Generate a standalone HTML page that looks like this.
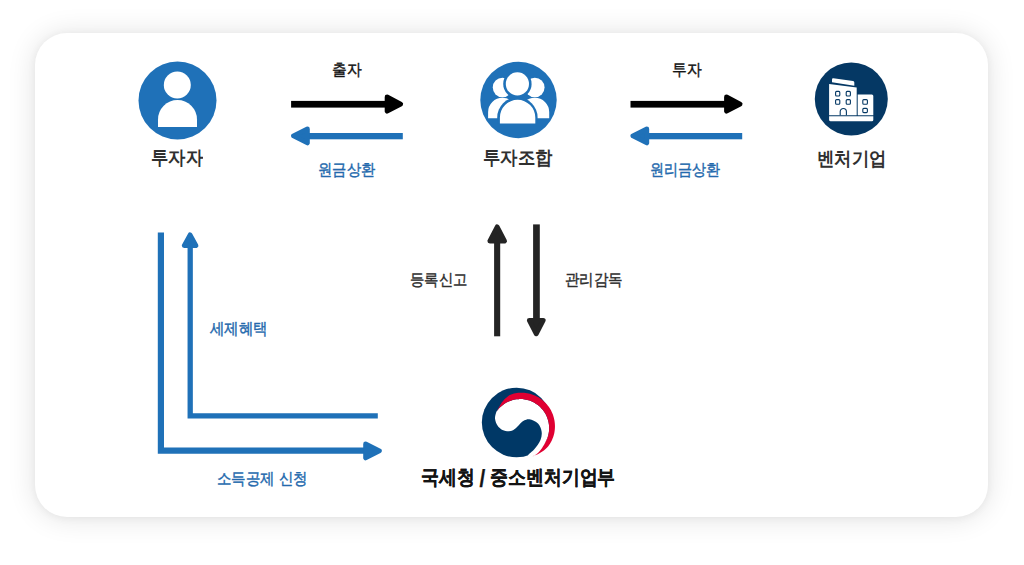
<!DOCTYPE html>
<html><head><meta charset="utf-8">
<style>
html,body{margin:0;padding:0;background:#fff;}
body{width:1024px;height:565px;position:relative;overflow:hidden;font-family:"Liberation Sans",sans-serif;}
.card{position:absolute;left:35px;top:33px;width:953px;height:484px;border-radius:32px;background:#fff;box-shadow:0 1px 28px 1px rgba(0,0,0,0.11),0 1px 9px rgba(0,0,0,0.05);}
svg{position:absolute;left:0;top:0;}
.t{position:absolute;white-space:nowrap;line-height:1;transform-origin:0 0;}
.b{font-weight:700;color:#303030;}
.k{font-weight:700;color:#141414;-webkit-text-stroke:0.25px #141414;}
.sl{display:inline-block;font-size:23px;vertical-align:-3px;line-height:1;}
.m{font-weight:400;color:#141414;-webkit-text-stroke:0.42px #141414;}
.g{font-weight:400;color:#2e2e2e;-webkit-text-stroke:0.42px #2e2e2e;}
.bl{font-weight:400;color:#2369ad;-webkit-text-stroke:0.42px #2369ad;}
</style></head>
<body>
<div class="card"></div>
<svg width="1024" height="565" viewBox="0 0 1024 565">
<circle cx="177.5" cy="100.5" r="39" fill="#1f71b8"/>
<circle cx="177.3" cy="85" r="13.5" fill="#fff"/>
<path d="M158 127 V119.5 A19.5 19.5 0 0 1 197 119.5 V127 Z" fill="#fff"/>
<circle cx="518.5" cy="100" r="38.2" fill="#1f71b8"/>
<circle cx="502.5" cy="87.5" r="9.75" fill="#fff"/>
<circle cx="534.8" cy="87.5" r="9.75" fill="#fff"/>
<path d="M488.1 118.3 V112.1 A14.4 14.4 0 0 1 516.9 112.1 V118.3 Z" fill="#fff"/>
<path d="M520.4 118.3 V112.1 A14.4 14.4 0 0 1 549.2 112.1 V118.3 Z" fill="#fff"/>
<circle cx="517.4" cy="83.9" r="14.2" fill="#1f71b8"/>
<path d="M497.2 123.4 V117.5 A20.2 20.2 0 0 1 537.6 117.5 V123.4 Z" fill="#1f71b8"/>
<circle cx="517.4" cy="83.9" r="11.6" fill="#fff"/>
<path d="M499.9 123.4 V117.5 A17.7 17.7 0 0 1 535.3 117.5 V123.4 Z" fill="#fff"/>
<circle cx="851.3" cy="99" r="36.5" fill="#053864"/>
<g fill="#fff">
<path d="M833.4 78.2 L853 81 Q854.3 81.2 854.3 82.4 L854.3 85.8 L832 82.2 L832 79.5 Q832 78 833.4 78.2 Z"/>
<path d="M829.1 84 L856.7 87.6 L856.7 115.2 L829.1 115.2 Z"/>
<path d="M857.7 94.5 L871.8 94.5 Q873.3 94.5 873.3 96 L873.3 115.2 L857.7 115.2 Z"/>
<path d="M829.1 116.2 L873.3 116.2 L873.3 119.7 Q873.3 121.2 871.8 121.2 L830.6 121.2 Q829.1 121.2 829.1 119.7 Z"/>
</g>
<g fill="none" stroke="#053864" stroke-width="1.1">
<rect x="835.6" y="91.4" width="4.2" height="4.6" rx="1"/>
<rect x="846.2" y="91.4" width="4.2" height="4.6" rx="1"/>
<rect x="835.6" y="99.6" width="4.2" height="4.6" rx="1"/>
<rect x="846.2" y="99.6" width="4.2" height="4.6" rx="1"/>
<rect x="862.8" y="99.6" width="4.6" height="4.6" rx="1"/>
<rect x="862.8" y="108.4" width="4.6" height="4.2" rx="1"/>
<path d="M840.2 115.2 V111.6 A3.1 3.1 0 0 1 846.4 111.6 V115.2"/>
</g>
<rect x="291.10" y="100.9" width="95.00" height="6.7" fill="#000"/>
<path d="M387.10 96.90 L400.70 104.05 L387.10 111.20 Z" fill="#000" stroke="#000" stroke-width="4.8" stroke-linejoin="round"/>
<rect x="306.00" y="133" width="96.80" height="6.3" fill="#1f71b8"/>
<path d="M307.40 129.00 L293.50 135.95 L307.40 142.90 Z" fill="#1f71b8" stroke="#1f71b8" stroke-width="4.8" stroke-linejoin="round"/>
<rect x="630.50" y="100.9" width="95.00" height="6.7" fill="#000"/>
<path d="M726.50 96.90 L740.10 104.05 L726.50 111.20 Z" fill="#000" stroke="#000" stroke-width="4.8" stroke-linejoin="round"/>
<rect x="645.40" y="133" width="96.80" height="6.3" fill="#1f71b8"/>
<path d="M646.80 129.00 L632.90 135.95 L646.80 142.90 Z" fill="#1f71b8" stroke="#1f71b8" stroke-width="4.8" stroke-linejoin="round"/>
<rect x="494.1" y="240" width="6.1" height="96.3" fill="#242424"/>
<path d="M489.80 241.10 L497.20 226.80 L504.60 241.10 Z" fill="#242424" stroke="#242424" stroke-width="4.8" stroke-linejoin="round"/>
<rect x="533.1" y="224.4" width="6.7" height="96" fill="#242424"/>
<path d="M529.30 320.30 L536.25 333.85 L543.20 320.30 Z" fill="#242424" stroke="#242424" stroke-width="4.8" stroke-linejoin="round"/>
<path d="M160.9 232.6 V450.6 H366" fill="none" stroke="#1f71b8" stroke-width="6.2"/>
<path d="M365.60 444.00 L379.40 450.95 L365.60 457.90 Z" fill="#1f71b8" stroke="#1f71b8" stroke-width="4.8" stroke-linejoin="round"/>
<path d="M190.2 246 V415.9 H377.8" fill="none" stroke="#1f71b8" stroke-width="5.3"/>
<path d="M184.20 245.60 L190.10 234.80 L196.00 245.60 Z" fill="#1f71b8" stroke="#1f71b8" stroke-width="4.8" stroke-linejoin="round"/>
<circle cx="516.63" cy="422.5" r="34.8" fill="#003866"/>
<path fill="#fff" d="M496.3 411.9 C496.54 411.57 497.24 410.58 497.74 409.95 C498.25 409.32 498.78 408.71 499.34 408.12 C499.89 407.53 500.47 406.97 501.08 406.43 C501.68 405.89 502.31 405.37 502.95 404.88 C503.60 404.39 504.26 403.93 504.95 403.50 C505.63 403.06 506.34 402.66 507.06 402.29 C507.78 401.91 508.52 401.57 509.27 401.26 C510.02 400.95 510.78 400.66 511.56 400.42 C512.33 400.17 513.12 399.96 513.91 399.78 C514.70 399.61 515.50 399.47 516.31 399.36 C517.11 399.25 517.93 399.17 518.74 399.13 C519.55 399.10 520.36 399.09 521.18 399.12 C521.99 399.15 522.80 399.21 523.61 399.31 C524.41 399.40 525.22 399.53 526.01 399.70 C526.81 399.86 527.60 400.06 528.38 400.29 C529.16 400.52 529.93 400.78 530.69 401.08 C531.44 401.37 532.19 401.70 532.92 402.06 C533.65 402.42 534.37 402.81 535.06 403.22 C535.76 403.64 536.44 404.09 537.10 404.56 C537.76 405.04 538.40 405.54 539.02 406.07 C539.63 406.60 540.23 407.16 540.80 407.73 C541.37 408.31 541.92 408.92 542.44 409.54 C542.96 410.16 543.45 410.81 543.92 411.48 C544.38 412.14 544.82 412.83 545.23 413.53 C545.64 414.24 546.02 414.96 546.37 415.69 C546.71 416.43 547.03 417.18 547.31 417.94 C547.60 418.70 547.85 419.47 548.07 420.26 C548.29 421.04 548.48 421.83 548.63 422.63 C548.78 423.43 548.90 424.23 548.99 425.04 C549.07 425.85 549.13 426.66 549.14 427.48 C549.16 428.29 549.14 429.10 549.09 429.91 C549.04 430.72 548.96 431.54 548.84 432.34 C548.72 433.14 548.56 433.94 548.38 434.73 C548.19 435.52 547.97 436.31 547.72 437.08 C547.47 437.85 547.18 438.62 546.87 439.37 C546.55 440.11 546.19 440.85 545.82 441.57 C545.46 442.30 545.06 443.01 544.66 443.72 C544.26 444.43 543.86 445.15 543.43 445.85 C543.00 446.56 542.56 447.26 542.09 447.95 C541.61 448.64 541.11 449.33 540.58 449.99 C540.05 450.65 539.49 451.29 538.89 451.91 C538.29 452.52 537.66 453.11 537.00 453.66 C536.33 454.21 535.63 454.72 534.89 455.18 C534.16 455.64 533.75 456.35 532.60 456.40 C531.45 456.45 527.68 456.73 528.00 455.50 C528.32 454.27 532.42 451.58 534.50 449.00 C536.58 446.42 539.32 442.92 540.50 440.00 C541.68 437.08 542.02 434.25 541.60 431.50 C541.18 428.75 540.02 425.53 538.00 423.50 C535.98 421.47 531.75 419.83 529.50 419.30 C527.25 418.77 526.00 419.65 524.50 420.30 C523.00 420.95 521.75 422.08 520.50 423.20 C519.25 424.32 518.25 425.83 517.00 427.00 C515.75 428.17 514.42 429.50 513.00 430.20 C511.58 430.90 510.25 431.23 508.50 431.20 C506.75 431.17 504.33 430.95 502.50 430.00 C500.67 429.05 498.75 427.42 497.50 425.50 C496.25 423.58 495.20 420.77 495.00 418.50 C494.80 416.23 496.08 413.00 496.30 411.90 Z"/>
<path fill="#e00032" d="M496.3 411.9 C496.51 411.53 497.12 410.44 497.53 409.69 C497.95 408.95 498.35 408.19 498.78 407.44 C499.21 406.68 499.64 405.91 500.11 405.15 C500.58 404.39 501.07 403.62 501.60 402.87 C502.13 402.12 502.70 401.37 503.30 400.65 C503.91 399.94 504.55 399.23 505.25 398.57 C505.94 397.91 506.67 397.27 507.45 396.69 C508.22 396.12 509.05 395.58 509.90 395.12 C510.76 394.66 511.66 394.26 512.58 393.94 C513.50 393.63 514.46 393.42 515.42 393.23 C516.37 393.05 517.34 392.93 518.32 392.84 C519.29 392.75 520.26 392.70 521.24 392.70 C522.21 392.70 523.19 392.73 524.16 392.82 C525.13 392.90 526.10 393.02 527.06 393.18 C528.02 393.35 528.98 393.56 529.92 393.81 C530.87 394.05 531.80 394.34 532.72 394.67 C533.64 395.00 534.54 395.37 535.43 395.78 C536.31 396.19 537.18 396.63 538.03 397.12 C538.88 397.60 539.70 398.12 540.50 398.68 C541.31 399.23 542.08 399.82 542.83 400.45 C543.58 401.07 544.31 401.73 545.00 402.41 C545.69 403.10 546.36 403.82 546.99 404.56 C547.62 405.30 548.22 406.08 548.78 406.87 C549.35 407.67 549.88 408.49 550.37 409.33 C550.86 410.17 551.32 411.04 551.73 411.92 C552.15 412.80 552.53 413.70 552.87 414.62 C553.21 415.53 553.51 416.46 553.77 417.40 C554.02 418.34 554.24 419.30 554.42 420.25 C554.59 421.21 554.72 422.18 554.81 423.15 C554.90 424.12 554.95 425.10 554.96 426.08 C554.97 427.05 554.93 428.03 554.85 429.00 C554.77 429.97 554.65 430.94 554.49 431.90 C554.32 432.86 554.12 433.82 553.87 434.76 C553.62 435.71 553.34 436.64 553.01 437.56 C552.68 438.48 552.31 439.38 551.91 440.27 C551.50 441.16 551.06 442.03 550.57 442.87 C550.08 443.72 549.55 444.54 548.97 445.32 C548.39 446.10 547.75 446.85 547.09 447.55 C546.42 448.26 545.71 448.92 544.98 449.55 C544.24 450.17 543.47 450.76 542.69 451.31 C541.90 451.86 541.09 452.37 540.27 452.85 C539.45 453.33 538.61 453.78 537.77 454.19 C536.93 454.61 536.07 455.00 535.21 455.37 C534.34 455.73 533.03 456.23 532.60 456.40 C532.98 456.20 534.16 455.64 534.89 455.18 C535.63 454.72 536.33 454.21 537.00 453.66 C537.66 453.11 538.29 452.52 538.89 451.91 C539.49 451.29 540.05 450.65 540.58 449.99 C541.11 449.33 541.61 448.64 542.09 447.95 C542.56 447.26 543.00 446.56 543.43 445.85 C543.86 445.15 544.26 444.43 544.66 443.72 C545.06 443.01 545.46 442.30 545.82 441.57 C546.19 440.85 546.55 440.11 546.87 439.37 C547.18 438.62 547.47 437.85 547.72 437.08 C547.97 436.31 548.19 435.52 548.38 434.73 C548.56 433.94 548.72 433.14 548.84 432.34 C548.96 431.54 549.04 430.72 549.09 429.91 C549.14 429.10 549.16 428.29 549.14 427.48 C549.13 426.66 549.07 425.85 548.99 425.04 C548.90 424.23 548.78 423.43 548.63 422.63 C548.48 421.83 548.29 421.04 548.07 420.26 C547.85 419.47 547.60 418.70 547.31 417.94 C547.03 417.18 546.71 416.43 546.37 415.69 C546.02 414.96 545.64 414.24 545.23 413.53 C544.82 412.83 544.38 412.14 543.92 411.48 C543.45 410.81 542.96 410.16 542.44 409.54 C541.92 408.92 541.37 408.31 540.80 407.73 C540.23 407.16 539.63 406.60 539.02 406.07 C538.40 405.54 537.76 405.04 537.10 404.56 C536.44 404.09 535.76 403.64 535.06 403.22 C534.37 402.81 533.65 402.42 532.92 402.06 C532.19 401.70 531.44 401.37 530.69 401.08 C529.93 400.78 529.16 400.52 528.38 400.29 C527.60 400.06 526.81 399.86 526.01 399.70 C525.22 399.53 524.41 399.40 523.61 399.31 C522.80 399.21 521.99 399.15 521.18 399.12 C520.36 399.09 519.55 399.10 518.74 399.13 C517.93 399.17 517.11 399.25 516.31 399.36 C515.50 399.47 514.70 399.61 513.91 399.78 C513.12 399.96 512.33 400.17 511.56 400.42 C510.78 400.66 510.02 400.95 509.27 401.26 C508.52 401.57 507.78 401.91 507.06 402.29 C506.34 402.66 505.63 403.06 504.95 403.50 C504.26 403.93 503.60 404.39 502.95 404.88 C502.31 405.37 501.68 405.89 501.08 406.43 C500.47 406.97 499.89 407.53 499.34 408.12 C498.78 408.71 498.25 409.32 497.74 409.95 C497.24 410.58 496.54 411.57 496.30 411.90 Z"/>
</svg>
<div class="t b" style="left:150.50px;top:148.30px;font-size:19.20px;transform:scaleX(0.9113)">투자자</div>
<div class="t b" style="left:483.00px;top:147.90px;font-size:19.20px;transform:scaleX(0.9142)">투자조합</div>
<div class="t b" style="left:817.00px;top:148.90px;font-size:19.20px;transform:scaleX(0.9143)">벤처기업</div>
<div class="t m" style="left:332.00px;top:61.60px;font-size:15.50px;transform:scaleX(0.9250)">출자</div>
<div class="t m" style="left:671.50px;top:61.50px;font-size:15.50px;transform:scaleX(0.9250)">투자</div>
<div class="t bl" style="left:318.00px;top:161.50px;font-size:15.50px;transform:scaleX(0.8912)">원금상환</div>
<div class="t bl" style="left:649.50px;top:161.50px;font-size:15.50px;transform:scaleX(0.8784)">원리금상환</div>
<div class="t g" style="left:409.50px;top:271.60px;font-size:15.50px;transform:scaleX(0.8975)">등록신고</div>
<div class="t g" style="left:565.00px;top:271.80px;font-size:15.50px;transform:scaleX(0.9054)">관리감독</div>
<div class="t bl" style="left:210.00px;top:321.00px;font-size:15.50px;transform:scaleX(0.9054)">세제혜택</div>
<div class="t bl" style="left:217.00px;top:471.10px;font-size:15.50px;transform:scaleX(0.9035)">소득공제 신청</div>
<div class="t k" style="left:421.00px;top:467.30px;font-size:20.00px;transform:scaleX(0.8931)">국세청 <span class="sl">/</span> 중소벤처기업부</div>
</body></html>
